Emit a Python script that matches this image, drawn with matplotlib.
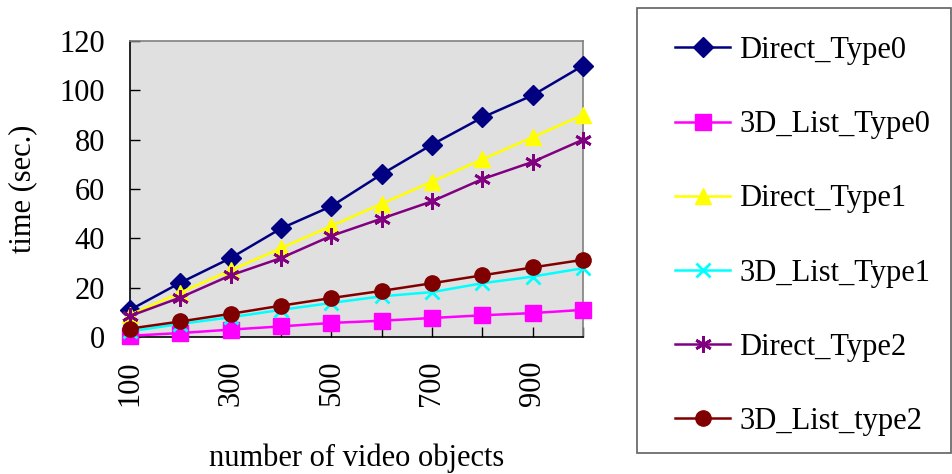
import matplotlib
matplotlib.use("Agg")
import matplotlib.pyplot as plt
from matplotlib.patches import Rectangle

# Number of video objects
n_objects = [100, 200, 300, 400, 500, 600, 700, 800, 900, 1000]

# Elapsed time (sec.) per method
direct_type0 = [11, 22, 32, 44, 53, 66, 78, 89, 98, 110]
list3d_type0 = [0.5, 1.6, 3.0, 4.3, 5.7, 6.6, 7.7, 8.8, 9.7, 11]
direct_type1 = [9, 18, 27, 36, 45, 54, 63, 72, 81, 90]
list3d_type1 = [2.3, 5.3, 8, 11, 13.8, 16.5, 18.2, 21.8, 24.5, 27.9]
direct_type2 = [8.5, 16, 25, 32, 41, 48, 55, 64, 71, 80]
list3d_type2 = [3.4, 6.3, 9.4, 12.7, 15.8, 18.7, 21.8, 25, 28.2, 31.3]

series_labels = ["Direct_Type0", "3D_List_Type0", "Direct_Type1",
                 "3D_List_Type1", "Direct_Type2", "3D_List_type2"]
x_tick_labels = ["100", "300", "500", "700", "900"]
y_ticks = [0, 20, 40, 60, 80, 100, 120]

series = [direct_type0, list3d_type0, direct_type1,
          list3d_type1, direct_type2, list3d_type2]
colors = ["#000080", "#FF00FF", "#FFFF00", "#00FFFF", "#800080", "#800000"]
markers = ["D", "s", "^", "x", (6, 2, 0), "o"]
msizes = [10, 11, 11, 10, 12, 11]
mew = [1, 1, 1, 2, 2, 1]

plt.rcParams["font.family"] = ["Liberation Serif", "DejaVu Serif"]

fig = plt.figure(figsize=(9.52, 4.74), dpi=100)
ax = fig.add_axes([130 / 952, 1 - 337 / 474, (583 - 130) / 952, (337 - 41) / 474])
ax.set_facecolor("#E0E0E0")

handles = []
for ys, c, m, ms, mw, lab in zip(series, colors, markers, msizes, mew, series_labels):
    h, = ax.plot(n_objects, ys, color=c, marker=m, markersize=ms,
                 markeredgewidth=mw, markeredgecolor=c, linewidth=1.8,
                 label=lab, clip_on=False, zorder=3)
    handles.append(h)

ax.set_xlim(100, 1000)
ax.set_ylim(0, 120)
ax.set_xticks(n_objects)
ax.set_xticklabels([str(v) if str(v) in x_tick_labels else "" for v in n_objects],
                   rotation=90, fontsize=22)
ax.set_yticks(y_ticks)
ax.set_yticklabels([str(v) for v in y_ticks], fontsize=22)
ax.tick_params(axis="x", direction="in", length=7, width=1, pad=17)
ax.tick_params(axis="y", direction="in", length=7.5, width=1, pad=18)

for side in ["left", "bottom"]:
    ax.spines[side].set_color("black")
    ax.spines[side].set_linewidth(1.2)
for side in ["top", "right"]:
    ax.spines[side].set_color("#808080")
    ax.spines[side].set_linewidth(1.2)

ax.set_xlabel("number of video objects", fontsize=22, labelpad=27)
ax.set_ylabel("time (sec.)", fontsize=22, labelpad=16)

# Legend box outside the plot area
fig.patches.append(Rectangle((637 / 952, 1 - 453 / 474), (951 - 637) / 952,
                             (453 - 8) / 474, transform=fig.transFigure,
                             fill=False, edgecolor="#606060", linewidth=1.2))
fig.legend(handles=handles, labels=series_labels, loc="upper left",
           bbox_to_anchor=(675 / 952, 1 - 36 / 474), frameon=False,
           fontsize=22, handlelength=1.8, handletextpad=0.3,
           labelspacing=1.48, borderpad=0, borderaxespad=0)

fig.savefig("out.png", dpi=100)
